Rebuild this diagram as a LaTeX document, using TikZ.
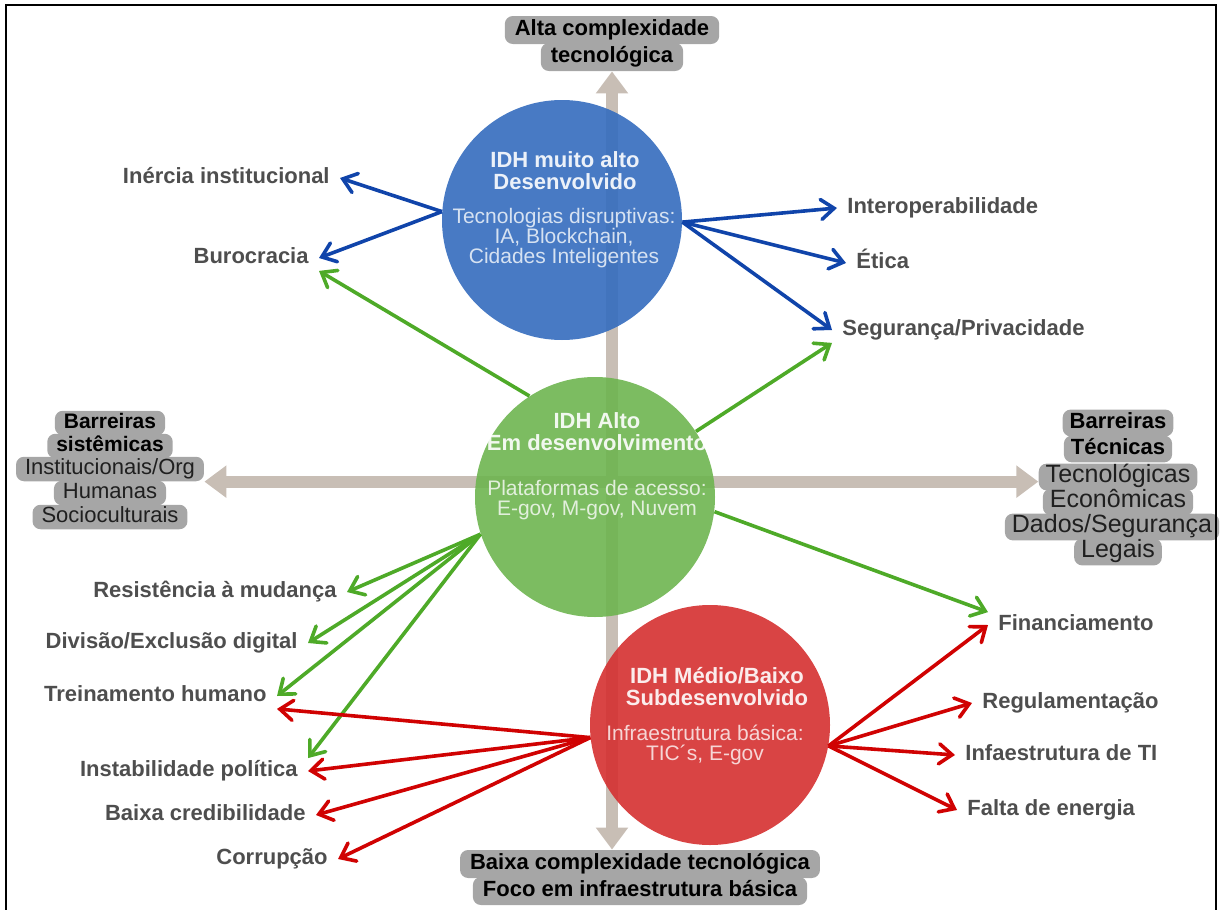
\documentclass[tikz,border=0pt]{standalone}
\usepackage{fontspec}
\setmainfont{Liberation Sans}
\usetikzlibrary{arrows.meta}
\definecolor{axisbeige}{RGB}{200,190,181}
\definecolor{boxgray}{RGB}{166,166,166}
\definecolor{idhblue}{RGB}{52,108,190}
\definecolor{idhgreen}{RGB}{110,181,80}
\definecolor{idhred}{RGB}{213,48,48}
\definecolor{arrblue}{RGB}{16,68,170}
\definecolor{arrgreen}{RGB}{78,170,40}
\definecolor{arrred}{RGB}{208,2,2}
\definecolor{labelgray}{RGB}{78,78,78}
\begin{document}
\begin{tikzpicture}[x=0.5pt,y=-0.5pt,
    idh/.style={circle,minimum size=120pt,inner sep=0pt,fill opacity=0.9},
    idhtitle/.style={font=\bfseries\fontsize{11}{11}\selectfont,text=white,text opacity=0.9,align=center},
    idhsub/.style={font=\fontsize{10.5}{10}\selectfont,text=white,text opacity=0.78,align=center},
    lbl/.style={font=\bfseries\fontsize{11}{12}\selectfont,text=labelgray,inner xsep=5pt,inner ysep=1pt,text height=8pt,text depth=2.5pt},
    axisbox/.style={fill=boxgray,rounded corners=4pt,font=\bfseries\fontsize{11}{12}\selectfont,inner xsep=5pt,inner ysep=1.25pt,text height=8.5pt,text depth=3pt},
    lbox/.style={fill=boxgray,rounded corners=4pt,font=\fontsize{11}{12}\selectfont,text=black!88,inner xsep=4.5pt,inner ysep=0.75pt,text height=8pt,text depth=2.75pt},
    lboxb/.style={lbox,font=\bfseries\fontsize{10.5}{12}\selectfont,text=black},
    rbox/.style={fill=boxgray,rounded corners=4pt,font=\fontsize{12.5}{13}\selectfont,text=black!88,inner xsep=3.5pt,inner ysep=0.75pt,text height=8.7pt,text depth=3.2pt},
    rboxb/.style={rbox,font=\bfseries\fontsize{11}{13}\selectfont,text=black},
    axis/.style={draw=axisbeige,line width=6pt,{Triangle[length=11pt,width=15.5pt]}-{Triangle[length=11pt,width=15.5pt]}},
    link/.style={line width=1.8pt,line join=round,-{Straight Barb[length=6.5pt,width=10pt,line cap=round]}}]
  \useasboundingbox (0,0) rectangle (1222,910);
  % boxes of the two axes
  \draw
    (612,30) node[axisbox] (ta1){Alta complexidade}
    (612,57) node[axisbox] (ta2){tecnológica}
    (640,864) node[axisbox] (bb1){Baixa complexidade tecnológica}
    (640,891) node[axisbox] (bb2){Foco em infraestrutura básica}
    (110,423) node[lboxb] (lb1){Barreiras}
    (110,446) node[lboxb] (lb2){sistêmicas}
    (110,469) node[lbox] (lb3){Institucionais/Org}
    (110,493) node[lbox] (lb4){Humanas}
    (110,517) node[lbox] (lb5){Socioculturais}
    (1118,423) node[rboxb] (rb1){Barreiras}
    (1118,449) node[rboxb] (rb2){Técnicas}
    (1118,477) node[rbox] (rb3){Tecnológicas}
    (1118,502) node[rbox] (rb4){Econômicas}
    (1112,527) node[rbox] (rb5){Dados/Segurança}
    (1118,552) node[rbox] (rb6){Legais};
  \draw[axis] (lb3.south east) -- (lb3.south east -| rb3.west);
  \draw[axis] (ta2.south) -- (ta2.south |- bb1.north);
  % IDH circles
  \draw
    (562,220) node[idh,fill=idhblue] (blue){}
    (595,497) node[idh,fill=idhgreen] (green){}
    (710,725) node[idh,fill=idhred] (red){}
    (565,171) node[idhtitle] (bluet){IDH muito alto\\Desenvolvido}
    (564,238) node[idhsub] (blues){Tecnologias disruptivas:\\IA, Blockchain,\\Cidades Inteligentes}
    (597,432) node[idhtitle] (greent){IDH Alto\\Em desenvolvimento}
    (597,500) node[idhsub] (greens){Plataformas de acesso:\\E-gov, M-gov, Nuvem}
    (717,687) node[idhtitle] (redt){IDH Médio/Baixo\\Subdesenvolvido}
    (705,745) node[idhsub] (reds){Infraestrutura básica:\\TIC´s, E-gov};
  % barriers
  \draw
    (340,178) node[lbl,anchor=east] (inercia){Inércia institucional}
    (319,258) node[lbl,anchor=east] (buro){Burocracia}
    (347,592) node[lbl,anchor=east] (resist){Resistência à mudança}
    (308,643) node[lbl,anchor=east] (divisao){Divisão/Exclusão digital}
    (277,696) node[lbl,anchor=east] (trein){Treinamento humano}
    (308,771) node[lbl,anchor=east] (instab){Instabilidade política}
    (316,815) node[lbl,anchor=east] (baixa){Baixa credibilidade}
    (338,859) node[lbl,anchor=east] (corrup){Corrupção}
    (837,208) node[lbl,anchor=west] (interop){Interoperabilidade}
    (846,263) node[lbl,anchor=west] (etica){Ética}
    (832,330) node[lbl,anchor=west] (seg){Segurança/Privacidade}
    (988,625) node[lbl,anchor=west] (financ){Financiamento}
    (972,703) node[lbl,anchor=west] (regul){Regulamentação}
    (955,755) node[lbl,anchor=west] (infra){Infaestrutura de TI}
    (957,810) node[lbl,anchor=west] (falta){Falta de energia};
  \begin{scope}[link,arrblue]
    \draw (blue.176) to (inercia.east);
    \draw (blue.176) to (buro.east);
    \draw (blue.-1) to (interop.west);
    \draw (blue.-1) to (etica.west);
    \draw (blue.-1) to (seg.west);
  \end{scope}
  \begin{scope}[link,arrgreen]
    \draw (green.123) to (buro.south east);
    \draw (green.33) to (seg.south west);
    \draw (green.-7) to (financ.north west);
    \draw (green.198) to (resist.east);
    \draw (green.198) to (divisao.east);
    \draw (green.198) to (trein.east);
    \draw (green.198) to (instab.north east);
  \end{scope}
  \begin{scope}[link,arrred]
    \draw (red.186) to (trein.south east);
    \draw (red.186) to (instab.east);
    \draw (red.186) to (baixa.east);
    \draw (red.186) to (corrup.east);
    \draw (red.-10) to (financ.west);
    \draw (red.-10) to (regul.west);
    \draw (red.-10) to (infra.west);
    \draw (red.-10) to (falta.west);
  \end{scope}
  % frame
  \draw[line width=1.4pt] (6,920) -- (6,5) -- (1216,5) -- (1216,920);
\end{tikzpicture}
\end{document}
